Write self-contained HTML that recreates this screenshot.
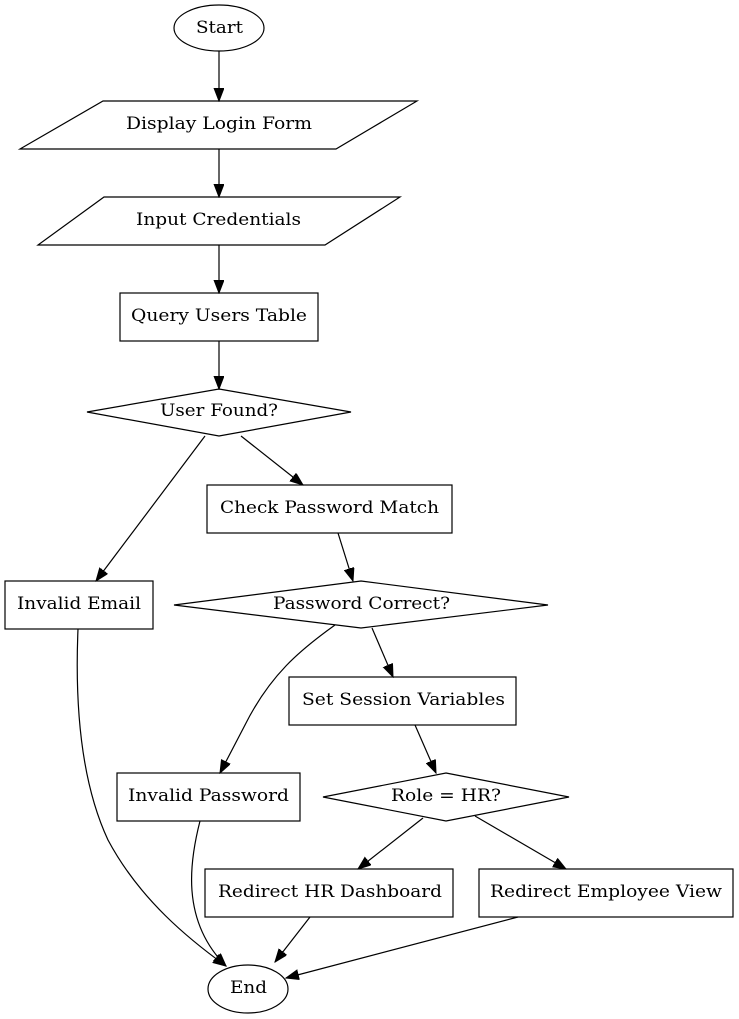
<!DOCTYPE html>
<html><head><meta charset="utf-8"><style>
html,body{margin:0;padding:0;background:#fff;}
svg{display:block;}
text{font-family:"DejaVu Serif","Liberation Serif",serif;font-size:17px;fill:#000;text-anchor:middle;dominant-baseline:central;}
.s{fill:none;stroke:#000;stroke-width:1.2;}
</style></head><body>
<svg width="739" height="1019" viewBox="0 0 739 1019" xmlns="http://www.w3.org/2000/svg">
<defs>
<marker id="a" markerUnits="userSpaceOnUse" markerWidth="14" markerHeight="12" refX="13" refY="5" orient="auto">
<path d="M0,0 L13,5 L0,10 Z" fill="#000" stroke="#000"/>
</marker>
</defs>
<ellipse class="s" cx="219" cy="28" rx="45" ry="23"/><text x="219.5" y="28" textLength="47" lengthAdjust="spacingAndGlyphs">Start</text>
<polygon class="s" points="103,101 417,101 336,149 20,149"/><text x="219" y="124" textLength="186" lengthAdjust="spacingAndGlyphs">Display Login Form</text>
<polygon class="s" points="104,197 400,197 325,245 38,245"/><text x="218.5" y="220" textLength="165" lengthAdjust="spacingAndGlyphs">Input Credentials</text>
<rect class="s" x="120" y="293" width="198" height="48"/><text x="219" y="316" textLength="176" lengthAdjust="spacingAndGlyphs">Query Users Table</text>
<polygon class="s" points="219,389 351,412 219,436 87,412"/><text x="219" y="411" textLength="118" lengthAdjust="spacingAndGlyphs">User Found?</text>
<rect class="s" x="207" y="485" width="245" height="48"/><text x="329.5" y="508" textLength="219" lengthAdjust="spacingAndGlyphs">Check Password Match</text>
<rect class="s" x="5" y="581" width="148" height="48"/><text x="79" y="604" textLength="124" lengthAdjust="spacingAndGlyphs">Invalid Email</text>
<polygon class="s" points="361,581 548,605 361,628 174,605"/><text x="361.5" y="604" textLength="177" lengthAdjust="spacingAndGlyphs">Password Correct?</text>
<rect class="s" x="289" y="677" width="227" height="48"/><text x="403.5" y="700" textLength="203" lengthAdjust="spacingAndGlyphs">Set Session Variables</text>
<rect class="s" x="117" y="773" width="183" height="48"/><text x="208.5" y="796" textLength="161" lengthAdjust="spacingAndGlyphs">Invalid Password</text>
<polygon class="s" points="446,773 569,797 446,821 323,797"/><text x="446" y="796" textLength="110" lengthAdjust="spacingAndGlyphs">Role = HR?</text>
<rect class="s" x="205" y="869" width="248" height="48"/><text x="330" y="892" textLength="224" lengthAdjust="spacingAndGlyphs">Redirect HR Dashboard</text>
<rect class="s" x="479" y="869" width="254" height="48"/><text x="606" y="892" textLength="232" lengthAdjust="spacingAndGlyphs">Redirect Employee View</text>
<ellipse class="s" cx="248" cy="989" rx="40" ry="24"/><text x="248.5" y="988" textLength="37" lengthAdjust="spacingAndGlyphs">End</text>
<g class="s" marker-end="url(#a)">
<path d="M219,51 L219,101"/>
<path d="M219,149 L219,197"/>
<path d="M219,245 L219,293"/>
<path d="M219,341 L219,389"/>
<path d="M241,436 L303,485"/>
<path d="M205,436 L96,581"/>
<path d="M338,533 L353,581"/>
<path d="M372,628 L393,677"/>
<path d="M335,625 C300,650 270,675 245,725 L220,773"/>
<path d="M415,725 L436,773"/>
<path d="M423,818 L358,869"/>
<path d="M475,816 L566,869"/>
<path d="M310,917 L275,962"/>
<path d="M518,917 L286,978"/>
<path d="M78,629 C75,700 80,780 108,840 C140,900 190,940 226,966"/>
<path d="M200,821 C190,860 180,920 226,966"/>
</g>
</svg>
</body></html>
